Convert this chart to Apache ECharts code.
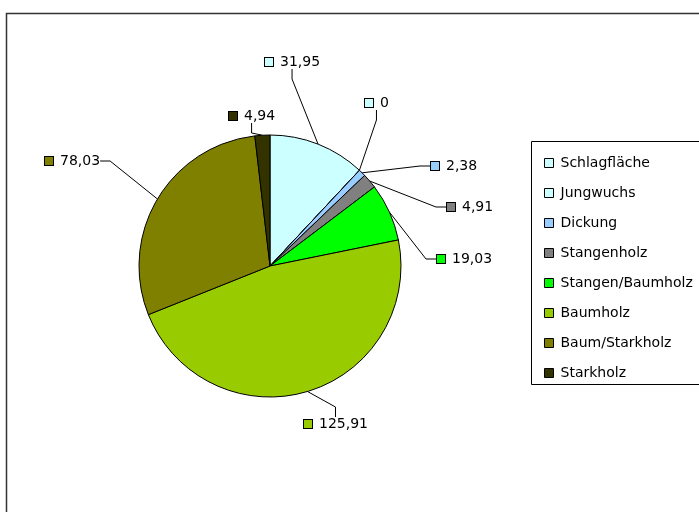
<!DOCTYPE html>
<html><head><meta charset="utf-8">
<script src="https://cdn.jsdelivr.net/npm/echarts@6/dist/echarts.min.js"></script>
<style>html,body{margin:0;padding:0;background:#fff}#c{width:699px;height:512px}</style>
</head><body><div id="c"></div>
<script>
const categories = ['Schlagfläche','Jungwuchs','Dickung','Stangenholz','Stangen/Baumholz','Baumholz','Baum/Starkholz','Starkholz'];
const values = [31.95, 0, 2.38, 4.91, 19.03, 125.91, 78.03, 4.94];
const colors = ['#CCFFFF','#CCFFFF','#99CCFF','#808080','#00FF00','#99CC00','#808000','#333300'];
const labelPos = [[265,62],[365,103],[431,166],[447,207],[437,259],[304,424],[45,161],[229,116]];

const FONT = 'DejaVu Sans';
const chart = echarts.init(document.getElementById('c'));
const data = categories.map((n,i)=>({name:n,value:values[i],itemStyle:{color:colors[i]},
  label:{rich:{
    sq:{width:8,height:8,backgroundColor:colors[i],borderColor:'#000',borderWidth:1},
    v:{fontFamily:FONT,fontSize:14,color:'#000',padding:[0,0,0,7]}
  }}}));
chart.setOption({
  animation:false,
  graphic:[
    {type:'rect',shape:{x:6.5,y:13.5,width:720,height:540},style:{fill:'none',stroke:'#333',lineWidth:1.5},silent:true},
    {type:'rect',shape:{x:531.5,y:141.5,width:200,height:243},style:{fill:'none',stroke:'#000',lineWidth:1},silent:true}
  ],
  legend:{
    orient:'vertical',left:539,top:150,itemWidth:9,itemHeight:9,itemGap:14,
    icon:'rect',
    itemStyle:{borderColor:'#000',borderWidth:1},
    textStyle:{fontFamily:FONT,fontSize:14,color:'#000',lineHeight:16,padding:[0,0,0,2]},
    data:categories
  },
  series:[{
    type:'pie',center:[270,266],radius:131,startAngle:90,clockwise:true,
    avoidLabelOverlap:false,
    itemStyle:{borderColor:'#000',borderWidth:1},
    label:{show:true,position:'outside',fontFamily:FONT,fontSize:14,color:'#000',
      formatter:p=>'{sq|}{v|'+String(p.value).replace('.',',')+'}'},
    labelLine:{show:true,length:10,length2:10,lineStyle:{color:'#000',width:1}},
    labelLayout:p=>{const q=labelPos[p.dataIndex];return {x:q[0],y:q[1],align:'left',verticalAlign:'middle'};},
    data:data
  }]
});
</script></body></html>
